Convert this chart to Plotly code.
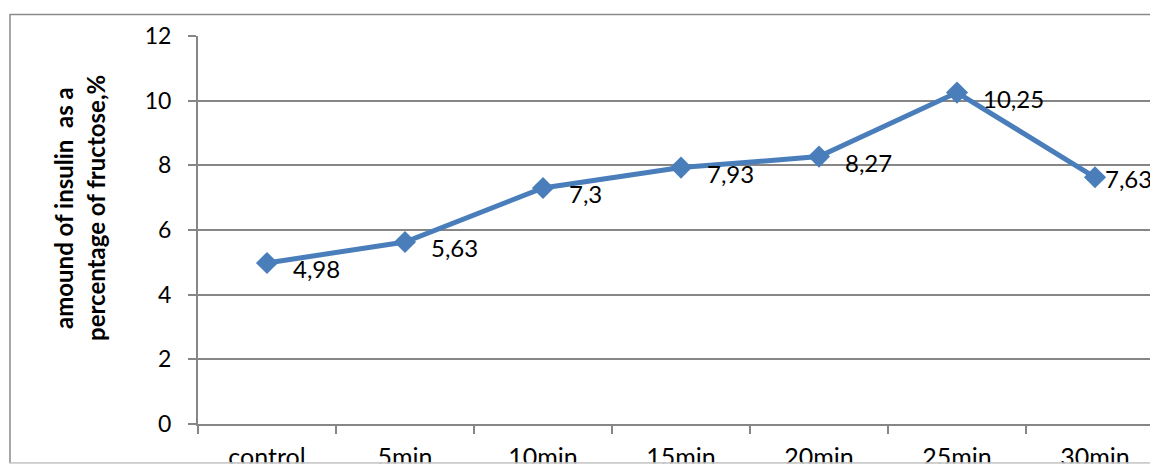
import plotly.graph_objects as go

# Data
categories = ["control", "5min", "10min", "15min", "20min", "25min", "30min"]
insulin_pct = [4.98, 5.63, 7.3, 7.93, 8.27, 10.25, 7.63]
y_ticks = [0, 2, 4, 6, 8, 10, 12]
title_lines = ["amound of insulin  as a", "percentage of fructose,%"]

FONT = "Lato, 'Open Sans', sans-serif"
BLUE = "#4a7ebb"
GRID = "#868686"

W, H = 1150, 465
ML, MR, MT, MB = 198, 0, 36, 41
PW, PH = W - ML - MR, H - MT - MB
CAT_PX = 138.0


def px_to_paper_x(px):
    return (px - ML) / PW


def px_to_paper_y(py):
    return (H - MB - py) / PH


fig = go.Figure()
fig.add_trace(go.Scatter(
    x=categories,
    y=insulin_pct,
    mode="lines+markers",
    line=dict(color=BLUE, width=5),
    marker=dict(symbol="diamond", size=17, color=BLUE),
    cliponaxis=False,
    showlegend=False,
    hoverinfo="skip",
))

# Value labels with decimal commas, placed right of each marker;
# the last one is pulled in toward the marker near the right edge
n = len(categories)
for i, (c, v) in enumerate(zip(categories, insulin_pct)):
    last = i == n - 1
    fig.add_annotation(
        x=c, y=v, xref="x", yref="y",
        text=f"{v:g}".replace(".", ","),
        showarrow=False, xanchor="left", yanchor="middle",
        xshift=8 if last else 24, yshift=-1 if last else -6,
        font=dict(family=FONT, size=24, color="#000000"),
    )

# Rotated two-line axis title
for px_x, line in zip([63, 95], title_lines):
    fig.add_annotation(
        x=px_to_paper_x(px_x), y=px_to_paper_y(208),
        xref="paper", yref="paper",
        text=f"<b>{line}</b>", textangle=-90,
        showarrow=False, xanchor="center", yanchor="middle",
        font=dict(family=FONT, size=24, color="#000000"),
    )

# Outer chart frame
fig.add_shape(
    type="rect", xref="paper", yref="paper",
    x0=px_to_paper_x(10), x1=px_to_paper_x(1200),
    y0=px_to_paper_y(463), y1=px_to_paper_y(14.5),
    line=dict(color="#8a8a8a", width=1.5), fillcolor="rgba(0,0,0,0)",
    layer="below",
)
# Strip below the frame bottom
fig.add_shape(
    type="rect", xref="paper", yref="paper",
    x0=px_to_paper_x(0), x1=px_to_paper_x(1160),
    y0=px_to_paper_y(470), y1=px_to_paper_y(463.5),
    line=dict(width=0), fillcolor="#ffffff", layer="above",
)
fig.add_shape(
    type="line", xref="paper", yref="paper",
    x0=px_to_paper_x(10), x1=px_to_paper_x(1160),
    y0=px_to_paper_y(463), y1=px_to_paper_y(463),
    line=dict(color="#d9d9d9", width=1.5), layer="above",
)

fig.update_xaxes(
    type="category",
    range=[-0.5, -0.5 + PW / CAT_PX],
    tickson="boundaries",
    ticks="outside", ticklen=8, tickwidth=2, tickcolor=GRID,
    showline=True, linecolor=GRID, linewidth=2,
    showgrid=False, zeroline=False,
    tickfont=dict(family=FONT, size=25, color="#000000"),
    ticklabelstandoff=10,
    automargin=False,
)
fig.update_yaxes(
    range=[0, 12],
    tickvals=y_ticks,
    ticktext=[str(t) for t in y_ticks],
    ticks="outside", ticklen=8, tickwidth=2, tickcolor=GRID,
    showline=True, linecolor=GRID, linewidth=2,
    showgrid=True, gridcolor=GRID, gridwidth=2,
    zeroline=False,
    tickfont=dict(family=FONT, size=23, color="#000000"),
    ticklabelstandoff=12,
    automargin=False,
)

fig.update_layout(
    width=W, height=H,
    margin=dict(l=ML, r=MR, t=MT, b=MB, autoexpand=False),
    paper_bgcolor="#ffffff", plot_bgcolor="#ffffff",
    font=dict(family=FONT),
)

fig.write_html("out.html")
